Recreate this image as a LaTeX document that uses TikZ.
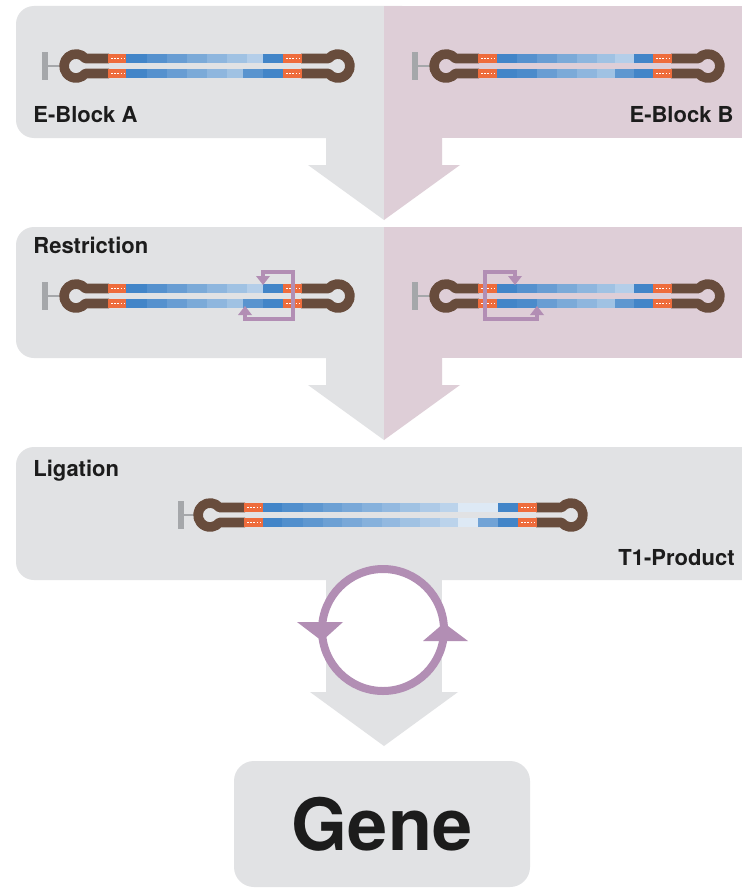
\documentclass[tikz,border=0pt]{standalone}
\usepackage{fontspec}
\setmainfont{TeX Gyre Heros}
\definecolor{panelgray}{RGB}{225,226,228}
\definecolor{panelpink}{RGB}{222,206,215}
\definecolor{capgray}{RGB}{165,167,170}
\definecolor{loopbrown}{RGB}{104,76,60}
\definecolor{tagorange}{RGB}{238,108,60}
\definecolor{dnablue}{RGB}{66,133,200}
\definecolor{enzpurple}{RGB}{178,142,180}
\definecolor{inkblack}{RGB}{28,28,28}

% hairpin construct: #1 cap x, #2 left loop cx, #3 right loop cx, #4 centre y,
% #5 left tag x, #6 right tag x
\newcommand{\hairpin}[6]{%
  \fill[capgray] (#1,#4-14) rectangle (#1+6,#4+14);
  \draw[capgray, line width=1pt] (#1+5,#4) -- (#2-15,#4);
  \draw[loopbrown, line width=4.8pt, line join=round]
    (#5+1,#4-7.5) -- (#2+9.4,#4-7.5)
    arc[start angle=-38.68, end angle=-321.32, radius=12] -- (#5+1,#4+7.5);
  \draw[loopbrown, line width=4.8pt, line join=round]
    (#6+18,#4-7.5) -- (#3-9.4,#4-7.5)
    arc[start angle=-141.32, end angle=141.32, radius=12] -- (#6+18,#4+7.5);
  \foreach \yy in {-7.5,7.5} {
    \fill[tagorange] (#5,#4+\yy-4.8) rectangle (#5+19,#4+\yy+4.8);
    \fill[tagorange] (#6,#4+\yy-4.8) rectangle (#6+19,#4+\yy+4.8);
    \draw[white, line width=0.9pt, dash pattern=on 0.9pt off 0.7pt]
      (#5+3,#4+\yy) -- (#5+16,#4+\yy);
    \draw[white, line width=0.9pt, dash pattern=on 0.9pt off 0.7pt]
      (#6+3,#4+\yy) -- (#6+16,#4+\yy);
  }%
}
% one strand of shaded blue blocks: #1 centre y, #2 list of x1/x2/strength
\newcommand{\bluestrand}[2]{%
  \foreach \xa/\xb/\p in {#2} {
    \fill[dnablue!\p!white] (\xa,#1-4.8) rectangle (\xb+0.3,#1+4.8);
  }%
}

\tikzset{
  paneltext/.style={font=\bfseries\fontsize{11}{13}\selectfont, text=inkblack, inner sep=0pt},
  flowgray/.style={fill=panelgray},
  flowpink/.style={fill=panelpink},
  enzyme/.style={draw=enzpurple, line width=2pt, line join=miter},
  enzhead/.style={fill=enzpurple},
}

\begin{document}
\begin{tikzpicture}[x=0.5pt,y=-0.5pt]
\useasboundingbox (0,0) rectangle (742,888);
\fill[white] (0,0) rectangle (742,888);

% ---------- step 1: the two E-Blocks ----------
\fill[flowgray, rounded corners=9] (16,6) rectangle (420,138);
\fill[flowpink] (384,6) rectangle (742,138);
\fill[flowgray] (326,137) -- (326,165) -- (308,165) -- (384,220) -- (384,137) -- cycle;
\fill[flowpink] (384,137) -- (384,220) -- (460,165) -- (442,165) -- (442,137) -- cycle;

\hairpin{42}{76}{338}{66}{108}{283}
\bluestrand{58.5}{126/147/100,147/167/90,167/187/80,187/207/70,207/227/60,227/247/50,247/263/40,263/283/100}
\bluestrand{73.5}{126/147/100,147/167/90,167/187/80,187/207/70,207/227/60,227/243/50,243/263/88,263/283/100}

\hairpin{412}{446}{708}{66}{478}{653}
\bluestrand{58.5}{497/517/100,517/537/90,537/557/80,557/577/70,577/597/60,597/615/50,615/634/40,634/653/100}
\bluestrand{73.5}{497/517/100,517/537/95,537/557/80,557/577/70,577/597/60,597/615/50,615/634/85,634/653/100}

\node[paneltext, anchor=base west] (blockA) at (33,123) {E-Block A};
\node[paneltext, anchor=base east] (blockB) at (734,123) {E-Block B};

% ---------- step 2: restriction ----------
\fill[flowgray, rounded corners=9] (16,227) rectangle (420,358);
\fill[flowpink] (384,227) rectangle (742,358);
\fill[flowgray] (326,357) -- (326,385) -- (308,385) -- (384,440) -- (384,357) -- cycle;
\fill[flowpink] (384,357) -- (384,440) -- (460,385) -- (442,385) -- (442,357) -- cycle;

\hairpin{42}{76}{338}{296}{108}{283}
\bluestrand{288.5}{126/147/100,147/167/90,167/187/80,187/207/70,207/227/60,227/247/50,247/263/40,263/283/100}
\bluestrand{303.5}{126/147/100,147/167/90,167/187/80,187/207/70,207/227/60,227/243/50,243/263/88,263/283/100}

\hairpin{412}{446}{708}{296}{478}{653}
\bluestrand{288.5}{497/517/100,517/537/90,537/557/80,557/577/70,577/597/60,597/615/50,615/634/40,634/653/100}
\bluestrand{303.5}{497/517/100,517/537/95,537/557/80,557/577/70,577/597/60,597/615/50,615/634/85,634/653/100}

% cut sites on E-Block A
\draw[enzyme] (263,277) -- (263,272) -- (293,272) -- (293,319) -- (245,319) -- (245,314);
\fill[enzhead] (256,276) -- (270,276) -- (263,285) -- cycle;
\fill[enzhead] (238,315) -- (252,315) -- (245,306) -- cycle;
% cut sites on E-Block B
\draw[enzyme] (515,277) -- (515,272) -- (485,272) -- (485,319) -- (537,319) -- (537,314);
\fill[enzhead] (508,276) -- (522,276) -- (515,285) -- cycle;
\fill[enzhead] (530,315) -- (544,315) -- (537,306) -- cycle;

\node[paneltext, anchor=base west] (restr) at (33,253) {Restriction};

% ---------- step 3: ligation ----------
\fill[flowgray, rounded corners=9] (16,447) rectangle (760,580);
\fill[flowgray] (326,578) rectangle (442,693);
\fill[flowgray] (310,692) -- (458,692) -- (384,746) -- cycle;

\hairpin{178}{210}{571}{515}{244}{518}
\bluestrand{507.5}{263/282/100,282/303/92,303/323/85,323/342/78,342/362/71,362/382/64,382/400/57,400/420/50,420/440/43,440/458/36,458/478/18,478/498/18,498/518/100}
\bluestrand{522.5}{263/282/100,282/303/92,303/323/85,323/342/78,342/362/71,362/382/64,382/400/57,400/420/50,420/440/43,440/458/36,458/478/18,478/498/75,498/518/100}

\node[paneltext, anchor=base west] (ligat) at (33,476) {Ligation};
\node[paneltext, anchor=base east] (tprod) at (735,565) {T1-Product};

% ---------- repeated cycles ----------
\draw[enzpurple, line width=4pt, fill=white] (383,630) circle[radius=61];
\fill[enzpurple] (297,622) -- (343,622) -- (322,641) -- cycle;
\fill[enzpurple] (423,641) -- (468,641) -- (444,623) -- cycle;

% ---------- result ----------
\fill[flowgray, rounded corners=10] (234,761) rectangle (530,887);
\node[font=\bfseries\fontsize{36}{40}\selectfont, text=inkblack, inner sep=0pt, anchor=base] (gene) at (382,850) {Gene};
\end{tikzpicture}
\end{document}
